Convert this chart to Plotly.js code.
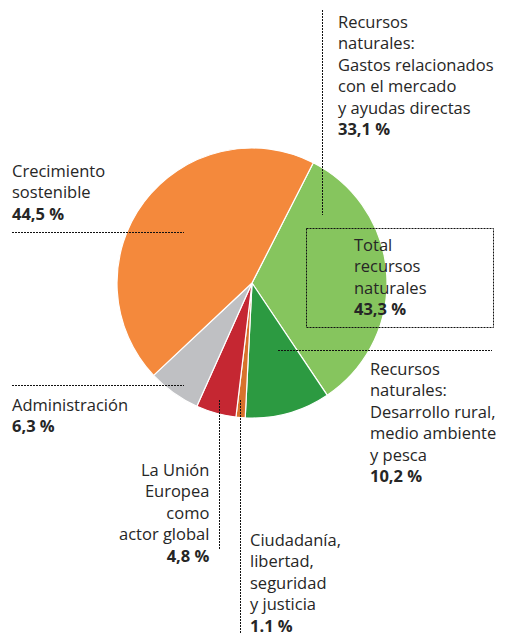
<!DOCTYPE html>
<html>
<head>
<meta charset="utf-8">
<script src="https://cdn.plot.ly/plotly-3.0.1.min.js"></script>
<style>html,body{margin:0;padding:0;background:#fff}#chart{width:505px;height:633px}</style>
</head>
<body>
<div id="chart"></div>
<script>
// Data (clockwise order starting at top-right)
const categories = [
  "Recursos naturales: Gastos relacionados con el mercado y ayudas directas",
  "Recursos naturales: Desarrollo rural, medio ambiente y pesca",
  "Ciudadanía, libertad, seguridad y justicia",
  "La Unión Europea como actor global",
  "Administración",
  "Crecimiento sostenible"
];
const values = [33.1, 10.2, 1.1, 4.8, 6.3, 44.5];
const valueLabels = ["33,1 %", "10,2 %", "1.1 %", "4,8 %", "6,3 %", "44,5 %"];
const labelLines = [
  ["Recursos", "naturales:", "Gastos relacionados", "con el mercado", "y ayudas directas"],
  ["Recursos", "naturales:", "Desarrollo rural,", "medio ambiente", "y pesca"],
  ["Ciudadanía,", "libertad,", "seguridad", "y justicia"],
  ["La Unión", "Europea", "como", "actor global"],
  ["Administración"],
  ["Crecimiento", "sostenible"]
];
const totalLines = ["Total", "recursos", "naturales"];
const totalValue = "43,3 %";
const colors = ["#86c55e", "#2c9a41", "#d8722c", "#c52732", "#bfc0c3", "#f4893c"];

const W = 505, H = 633;
const px = x => x / W;
const py = y => 1 - y / H;
const txt = (lines, val) => lines.join("<br>") + "<br><b>" + val + "</b>";

const trace = {
  type: "pie",
  values: values,
  labels: categories,
  sort: false,
  direction: "clockwise",
  rotation: 27,
  textinfo: "none",
  hoverinfo: "none",
  marker: { colors: colors, line: { color: "#ffffff", width: 1.2 } },
  domain: { x: [px(117), px(387)], y: [py(418), py(148)] },
  showlegend: false
};

const font = { family: "Open Sans, sans-serif", size: 16.5, color: "#262626" };
function ann(x, y, text, xanchor, align) {
  return { xref: "paper", yref: "paper", x: px(x), y: py(y), text: text,
           xanchor: xanchor, yanchor: "top", align: align, showarrow: false, font: font };
}
const annotations = [
  ann(336, 8, txt(labelLines[0], valueLabels[0]), "left", "left"),
  ann(368, 355, txt(labelLines[1], valueLabels[1]), "left", "left"),
  ann(248, 526, txt(labelLines[2], valueLabels[2]), "left", "left"),
  ann(212, 456, txt(labelLines[3], valueLabels[3]), "right", "right"),
  ann(10, 391, txt(labelLines[4], valueLabels[4]), "left", "left"),
  ann(10, 157, txt(labelLines[5], valueLabels[5]), "left", "left"),
  ann(352, 231, txt(totalLines, totalValue), "left", "left")
];

const dl = { color: "#111", width: 1, dash: "2px,1px" };
function seg(x0, y0, x1, y1) {
  return { type: "line", xref: "paper", yref: "paper", x0: px(x0), y0: py(y0), x1: px(x1), y1: py(y1), line: dl };
}
const shapes = [
  seg(322.5, 10, 322.5, 215),
  seg(12, 232.5, 184, 232.5),
  seg(278, 350.5, 492, 350.5),
  seg(12, 385.5, 184, 385.5),
  seg(219.5, 400, 219.5, 550),
  seg(240.5, 400, 240.5, 633),
  { type: "rect", xref: "paper", yref: "paper", x0: px(306.5), x1: px(493.5), y0: py(228.5), y1: py(327.5), line: dl }
];

Plotly.newPlot("chart", [trace], {
  width: W, height: H,
  margin: { l: 0, r: 0, t: 0, b: 0 },
  paper_bgcolor: "#fff",
  annotations: annotations,
  shapes: shapes
}, { displayModeBar: false, staticPlot: true });
</script>
</body>
</html>
